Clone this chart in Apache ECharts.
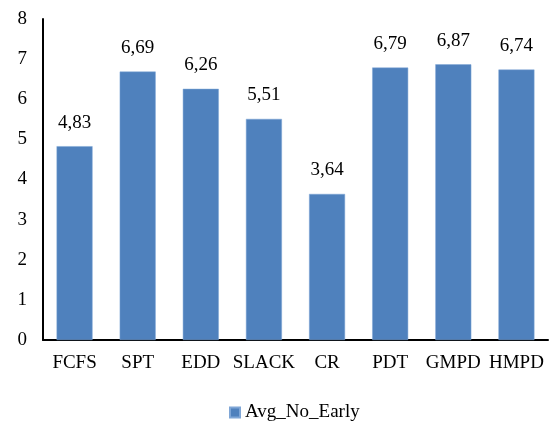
<!DOCTYPE html>
<html><head><meta charset="utf-8">
<script src="https://cdn.jsdelivr.net/npm/echarts@6/dist/echarts.min.js"></script>
<style>html,body{margin:0;padding:0;background:#fff}#c{width:550px;height:423px}</style>
</head><body><div id="c"></div>
<script>
const categories = ["FCFS","SPT","EDD","SLACK","CR","PDT","GMPD","HMPD"];
const values = [4.83,6.69,6.26,5.51,3.64,6.79,6.87,6.74];
const yTicks = [0,1,2,3,4,5,6,7,8];
const seriesName = "Avg_No_Early";
const font = "'Liberation Serif','Times New Roman',serif";
const chart = echarts.init(document.getElementById('c'));
chart.setOption({
  animation:false,
  textStyle:{fontFamily:font},
  grid:{left:43,right:2,top:19,bottom:83,containLabel:false},
  legend:{bottom:1,left:229,padding:0,itemWidth:10,itemHeight:10,icon:'rect',itemGap:6,
    textStyle:{fontFamily:font,fontSize:19,color:'#000'},data:[seriesName]},
  xAxis:{type:'category',data:categories,
    axisLine:{lineStyle:{color:'#000',width:2}},axisTick:{show:false},
    axisLabel:{fontFamily:font,fontSize:19,color:'#000',margin:14,interval:0}},
  yAxis:{type:'value',min:yTicks[0],max:yTicks[yTicks.length-1],interval:1,
    axisLine:{show:true,lineStyle:{color:'#000',width:2}},axisTick:{show:false},
    splitLine:{show:false},
    axisLabel:{fontFamily:font,fontSize:19,color:'#000',margin:16}},
  series:[{name:seriesName,type:'bar',data:values,barCategoryGap:'43%',
    itemStyle:{color:'#4F81BD',borderColor:'#7fa6d6',borderWidth:0.5},
    label:{show:true,position:'top',distance:14,fontFamily:font,fontSize:19,color:'#000',
      formatter:p=>p.value.toFixed(2).replace('.',',')}}]
});
</script></body></html>
